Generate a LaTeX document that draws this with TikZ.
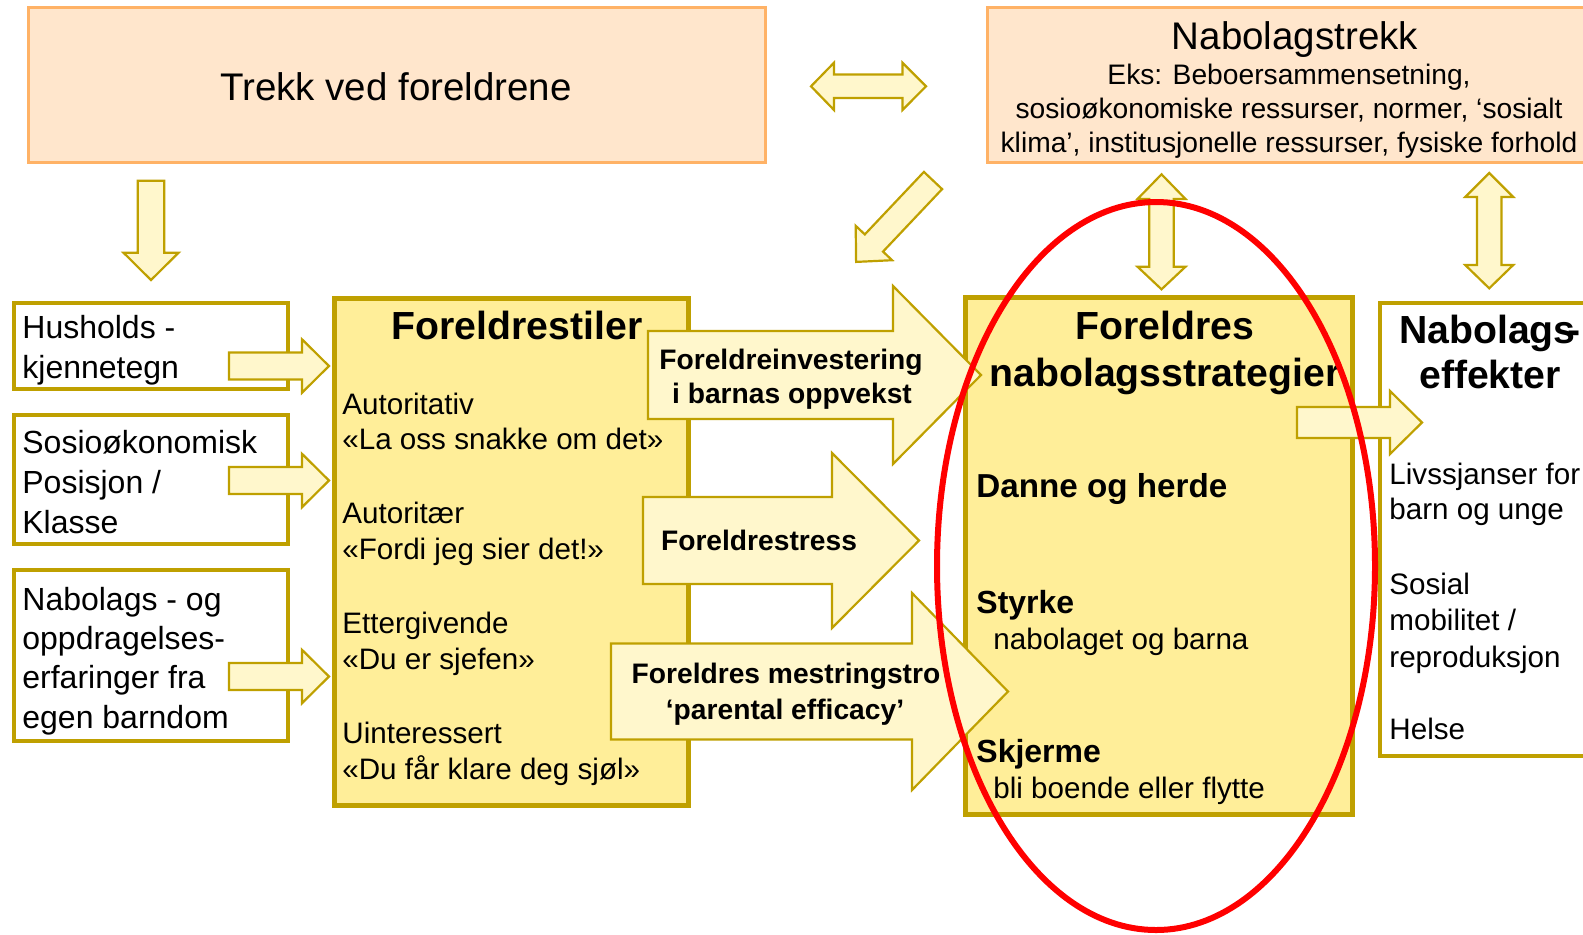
\documentclass[tikz,border=0pt]{standalone}
\usepackage{fontspec}
\setmainfont{Liberation Sans}
\usetikzlibrary{fit}
\definecolor{peachfill}{HTML}{FFE6CC}
\definecolor{peachline}{HTML}{FFB266}
\definecolor{gold}{HTML}{BFA000}
\definecolor{boxyellow}{HTML}{FFEE99}
\definecolor{arrowfill}{HTML}{FFF7CC}
\definecolor{ringred}{HTML}{FF0000}
\newcommand{\MyRArr}[6]{% tail x, head base x, tip x, centre y, shaft half, head half
  \draw[barrow] (#1,#4-#5) -- (#2,#4-#5) -- (#2,#4-#6) -- (#3,#4) -- (#2,#4+#6) -- (#2,#4+#5) -- (#1,#4+#5) -- cycle;}
\newcommand{\MyVDArr}[7]{% centre x, top tip, top head base, bottom head base, bottom tip, shaft half, head half
  \draw[barrow] (#1,#2) -- (#1+#7,#3) -- (#1+#6,#3) -- (#1+#6,#4) -- (#1+#7,#4) -- (#1,#5) -- (#1-#7,#4) -- (#1-#6,#4) -- (#1-#6,#3) -- (#1-#7,#3) -- cycle;}
\begin{document}
\begin{tikzpicture}[x=0.5pt,y=-0.5pt,
  peachbox/.style={draw=peachline, fill=peachfill, line width=1.75pt, inner sep=0pt},
  whitebox/.style={draw=gold, fill=white, line width=2pt, inner sep=0pt},
  yellowbox/.style={draw=gold, fill=boxyellow, line width=2.5pt, inner sep=0pt},
  barrow/.style={draw=gold, fill=arrowfill, line width=1.1pt, line join=miter},
  bigtxt/.style={font=\fontsize{19.25}{23}\selectfont, inner sep=0pt, anchor=base},
  ekstxt/.style={font=\fontsize{14.1}{17}\selectfont, inner sep=0pt, anchor=base},
  lefttxt/.style={font=\fontsize{16}{19}\selectfont, inner sep=0pt, anchor=base west},
  titletxt/.style={font=\bfseries\fontsize{19.6}{23}\selectfont, inner sep=0pt, anchor=base},
  listtxt/.style={font=\fontsize{14.8}{18}\selectfont, inner sep=0pt, anchor=base west},
  arrtxt/.style={font=\bfseries\fontsize{14.1}{17}\selectfont, inner sep=0pt, anchor=base},
  itemtxt/.style={font=\bfseries\fontsize{16}{19}\selectfont, inner sep=0pt, anchor=base west}]
\useasboundingbox (0,0) rectangle (1583,934);
\clip (0,0) rectangle (1583,934);

% boxes
\node[peachbox, fit={(28.5,7.5) (765.5,162.5)}] (trekk) {};
\node[peachbox, fit={(987.5,7.5) (1600,162.5)}] (nabotrekk) {};
\node[whitebox, fit={(14,303) (288,389)}] (hush) {};
\node[whitebox, fit={(14,415) (288,544)}] (sosio) {};
\node[whitebox, fit={(14,570) (288,741)}] (nabbarn) {};
\node[yellowbox, fit={(334.5,298.5) (688.5,805.5)}] (stiler) {};
\node[yellowbox, fit={(965.5,297.5) (1352.5,814.5)}] (strat) {};
\node[whitebox, fit={(1380,303) (1600,756)}] (effekt) {};

% block arrows
\MyRArr{229}{302}{329}{366}{13.5}{26.7}
\MyRArr{229}{302}{329}{480.5}{13.5}{26.7}
\MyRArr{229}{302}{329}{676.5}{13.5}{26.7}
\MyRArr{648}{893}{981}{375}{44}{89}
\MyRArr{643}{832}{919}{540.5}{43.5}{87.5}
\MyRArr{611}{912}{1008}{691.5}{48}{98.5}
\MyRArr{1297}{1390}{1422}{422.5}{15.5}{31.5}
% down arrow
\draw[barrow] (137.8,180.7) -- (164.3,180.7) -- (164.3,252.7) -- (178.6,252.7) -- (151,280) -- (123.5,252.7) -- (137.8,252.7) -- cycle;
% double horizontal arrow
\draw[barrow] (811,86.3) -- (834,62.7) -- (834,74.5) -- (902.5,74.5) -- (902.5,62.7) -- (926,86.3) -- (902.5,110) -- (902.5,98) -- (834,98) -- (834,110) -- cycle;
% diagonal arrow
\draw[barrow] (942.1,189.1) -- (883.0,251.6) -- (892.1,260.2) -- (856.1,261.9) -- (855.7,225.8) -- (864.8,234.4) -- (923.9,171.9) -- cycle;
% vertical double arrows
\MyVDArr{1161.5}{174.3}{199}{266.7}{289.3}{12.3}{24}
\MyVDArr{1489.2}{173}{197}{265}{288.3}{12.3}{24}

% texts
\node[bigtxt] (trekktxt) at (396,100) {Trekk ved foreldrene};
\node[bigtxt] (nabotitle) at (1295,49) {Nabolagstrekk};
\node[ekstxt] (eks1) at (1289,84) {Eks: Beboersammensetning,};
\node[ekstxt] (eks2) at (1289,118) {sosioøkonomiske ressurser, normer, ‘sosialt};
\node[ekstxt] (eks3) at (1289,152) {klima’, institusjonelle ressurser, fysiske forhold};

\node[lefttxt] (hus1) at (22,338) {Husholds -};
\node[lefttxt] (hus2) at (22,378) {kjennetegn};
\node[lefttxt] (sos1) at (22,453) {Sosioøkonomisk};
\node[lefttxt] (sos2) at (22,493) {Posisjon /};
\node[lefttxt] (sos3) at (22,533) {Klasse};
\node[lefttxt] (nab1) at (22,610) {Nabolags - og};
\node[lefttxt] (nab2) at (22,649) {oppdragelses-};
\node[lefttxt] (nab3) at (22,688) {erfaringer fra};
\node[lefttxt] (nab4) at (22,728) {egen barndom};

\node[titletxt] (stilertitle) at (517,339) {Foreldrestiler};
\node[listtxt] (st1) at (342,414) {Autoritativ};
\node[listtxt] (st2) at (342,449) {«La oss snakke om det»};
\node[listtxt] (st3) at (342,523) {Autoritær};
\node[listtxt] (st4) at (342,559) {«Fordi jeg sier det!»};
\node[listtxt] (st5) at (342,633) {Ettergivende};
\node[listtxt] (st6) at (342,669) {«Du er sjefen»};
\node[listtxt] (st7) at (342,743) {Uinteressert};
\node[listtxt] (st8) at (342,779) {«Du får klare deg sjøl»};

\node[arrtxt] (inv1) at (791,369) {Foreldreinvestering};
\node[arrtxt] (inv2) at (792,403) {i barnas oppvekst};
\node[arrtxt] (stress) at (759,550) {Foreldrestress};
\node[arrtxt] (mes1) at (786,683) {Foreldres mestringstro};
\node[arrtxt] (mes2) at (785,719) {‘parental efficacy’};

\node[titletxt] (strat1) at (1165,339) {Foreldres};
\node[titletxt] (strat2) at (1165,386) {nabolagsstrategier};
\node[itemtxt, font=\bfseries\fontsize{16.6}{19}\selectfont] (danne) at (976,497) {Danne og herde};
\node[itemtxt] (styrke) at (976,613) {Styrke};
\node[listtxt] (styrkesub) at (993,649) {nabolaget og barna};
\node[itemtxt] (skjerme) at (976,762) {Skjerme};
\node[listtxt] (skjermesub) at (993,798) {bli boende eller flytte};

\node[titletxt] (eff1) at (1490,343) {Nabolags\kern-0.2em-};
\node[titletxt] (eff2) at (1490,388) {effekter};
\node[listtxt] (ef1) at (1389,484) {Livssjanser for};
\node[listtxt] (ef2) at (1389,519) {barn og unge};
\node[listtxt] (ef3) at (1389,594) {Sosial};
\node[listtxt] (ef4) at (1389,630) {mobilitet /};
\node[listtxt] (ef5) at (1389,667) {reproduksjon};
\node[listtxt] (ef6) at (1389,739) {Helse};

% red ellipse
\draw[ringred, line width=3pt] (1156,566) ellipse [x radius=109.5pt, y radius=182pt];
\end{tikzpicture}
\end{document}
